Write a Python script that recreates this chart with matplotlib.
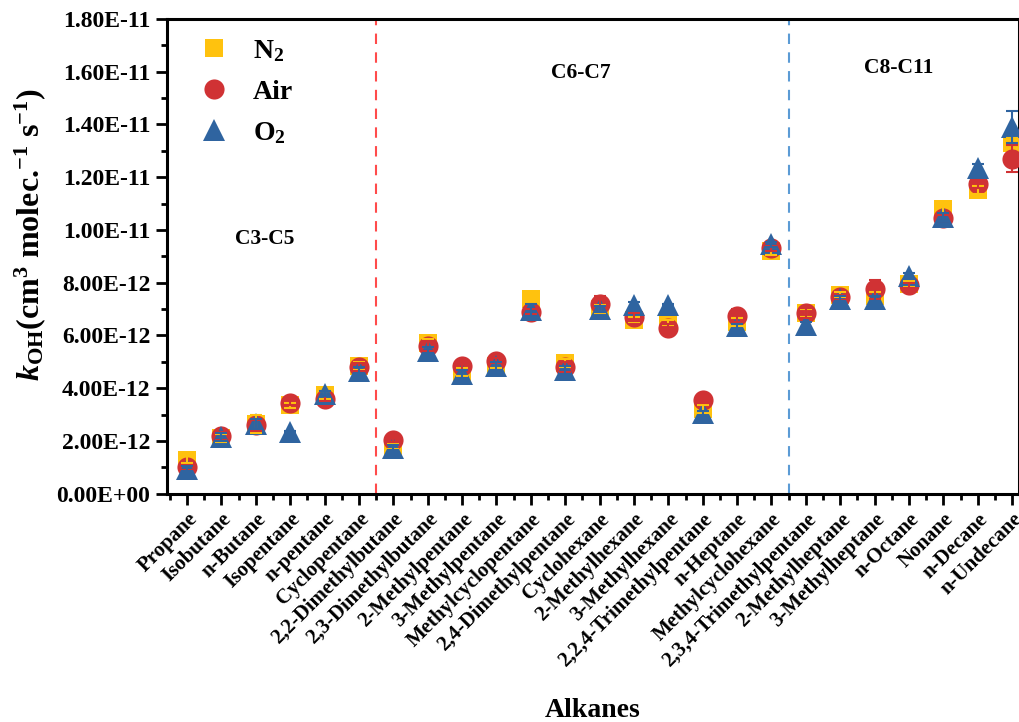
import numpy as np
import matplotlib
matplotlib.use("Agg")
import matplotlib.pyplot as plt
from matplotlib.ticker import MultipleLocator, FuncFormatter

plt.rcParams["font.family"] = ["Liberation Serif", "DejaVu Serif"]
plt.rcParams["font.weight"] = "bold"
plt.rcParams["mathtext.fontset"] = "custom"
plt.rcParams["mathtext.rm"] = "Liberation Serif:bold"
plt.rcParams["mathtext.bf"] = "Liberation Serif:bold"
plt.rcParams["mathtext.it"] = "Liberation Serif:bold:italic"

alkanes = ["Propane", "Isobutane", "n-Butane", "Isopentane", "n-pentane", "Cyclopentane",
           "2,2-Dimethylbutane", "2,3-Dimethylbutane", "2-Methylpentane", "3-Methylpentane",
           "Methylcyclopentane", "2,4-Dimethylpentane", "Cyclohexane", "2-Methylhexane",
           "3-Methylhexane", "2,2,4-Trimethylpentane", "n-Heptane", "Methylcyclohexane",
           "2,3,4-Trimethylpentane", "2-Methylheptane", "3-Methylheptane", "n-Octane",
           "Nonane", "n-Decane", "n-Undecane"]

# rate constants in units of 1E-12 cm3 molec-1 s-1
k_n2 = [1.30, 2.10, 2.65, 3.35, 3.75, 4.85, 1.80, 5.70, 4.60, 4.85, 7.40, 4.95, 7.00,
        6.60, 6.50, 3.20, 6.50, 9.20, 6.85, 7.55, 7.50, 7.95, 10.80, 11.50, 13.30]
k_air = [1.00, 2.20, 2.60, 3.45, 3.60, 4.80, 2.05, 5.60, 4.85, 5.05, 6.90, 4.80, 7.20,
         6.70, 6.30, 3.55, 6.75, 9.30, 6.85, 7.45, 7.75, 7.90, 10.45, 11.75, 12.70]
k_o2 = [0.95, 2.15, 2.65, 2.35, 3.80, 4.65, 1.75, 5.40, 4.55, 4.85, 6.95, 4.70, 7.00,
        7.15, 7.15, 3.05, 6.35, 9.45, 6.40, 7.40, 7.40, 8.25, 10.50, 12.35, 13.90]

err_n2 = [0.15, 0.15, 0.35, 0.10, 0.15, 0.15, 0.10, 0.15, 0.15, 0.10, 0.15, 0.15, 0.15,
          0.10, 0.10, 0.15, 0.15, 0.15, 0.15, 0.10, 0.15, 0.10, 0.15, 0.15, 0.20]
err_air = [0.10, 0.15, 0.20, 0.10, 0.10, 0.15, 0.10, 0.20, 0.15, 0.10, 0.10, 0.20, 0.30,
           0.15, 0.15, 0.10, 0.25, 0.10, 0.20, 0.10, 0.35, 0.10, 0.10, 0.15, 0.50]
err_o2 = [0.10, 0.15, 0.20, 0.05, 0.10, 0.15, 0.10, 0.15, 0.15, 0.15, 0.25, 0.15, 0.10,
          0.10, 0.05, 0.10, 0.10, 0.10, 0.10, 0.10, 0.10, 0.10, 0.15, 0.15, 0.60]

series = [("N$_2$", k_n2, err_n2, "s", "#FFC20E", 12.5),
          ("Air", k_air, err_air, "o", "#D03234", 14.5),
          ("O$_2$", k_o2, err_o2, "^", "#2F64A0", 16)]

fig = plt.figure(figsize=(10.19, 7.22), dpi=100)
ax = fig.add_axes([0.164, 0.316, 0.836, 0.658])

x = np.arange(len(alkanes))
for label, vals, err, mk, col, ms in series:
    y = np.array(vals) * 1e-12
    ax.plot(x, y, linestyle="none", marker=mk, color=col, markersize=ms,
            markeredgewidth=0, label=label, zorder=3)
    ax.errorbar(x, y, yerr=np.array(err) * 1e-12, fmt="none", ecolor=col,
                elinewidth=1.5, capsize=4, capthick=1.5, zorder=4)

ax.axvline(5.5, color="#FF4B4B", linestyle=(0, (5, 4)), linewidth=1.5, zorder=1)
ax.axvline(17.5, color="#5B9BD5", linestyle=(0, (5, 4)), linewidth=1.5, zorder=1)

ax.text(2.25, 9.65e-12, "C3-C5", fontsize=15.5, fontweight="bold", ha="center", va="center")
ax.text(11.45, 15.95e-12, "C6-C7", fontsize=15.5, fontweight="bold", ha="center", va="center")
ax.text(20.7, 16.15e-12, "C8-C11", fontsize=15.5, fontweight="bold", ha="center", va="center")

ax.set_xlim(-0.58, 24.2)
ax.set_ylim(0, 1.8e-11)
ax.set_xticks(x)
ax.set_xticklabels(alkanes, rotation=45, ha="right", rotation_mode="anchor",
                   fontsize=15, fontweight="bold")
ax.xaxis.set_minor_locator(MultipleLocator(0.5))
ax.yaxis.set_major_locator(MultipleLocator(2e-12))
ax.yaxis.set_minor_locator(MultipleLocator(1e-12))
ax.yaxis.set_major_formatter(FuncFormatter(lambda v, p: "{:.2E}".format(v)))
for lab in ax.get_yticklabels():
    lab.set_fontsize(17)
    lab.set_fontweight("bold")
ax.tick_params(axis="y", which="major", direction="out", length=8, width=2, labelsize=17, pad=4)
ax.tick_params(axis="x", which="major", direction="out", length=8, width=2, labelsize=15, pad=3)
ax.tick_params(which="minor", direction="out", length=4, width=2)
for s in ax.spines.values():
    s.set_linewidth(2.2)

ax.set_xlabel("Alkanes", fontsize=20, fontweight="bold")
ax.xaxis.set_label_coords(0.5, -0.43)
ax.set_ylabel(r"$k_{\mathrm{OH}}$(cm$^3$ molec.$^{-1}$ s$^{-1}$)", fontsize=23, fontweight="bold")
ax.yaxis.set_label_coords(-0.14, 0.545)

ax.legend(loc="upper left", frameon=False, fontsize=20, labelspacing=0.55,
          handletextpad=0.4, borderaxespad=0.3, bbox_to_anchor=(0.0, 1.0))

fig.savefig("out.png", dpi=100)
